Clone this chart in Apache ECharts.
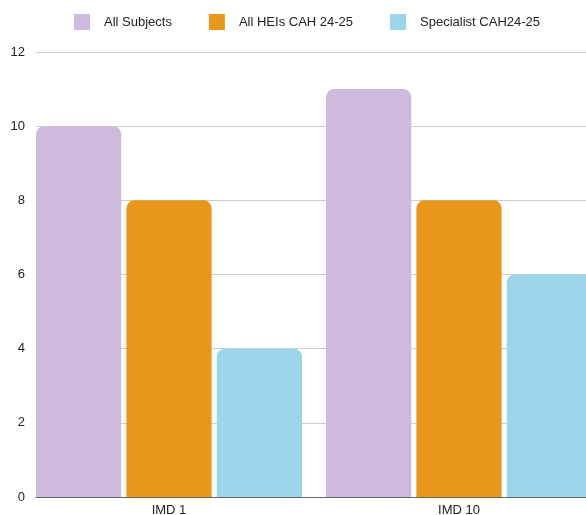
<!DOCTYPE html>
<html><head><meta charset="utf-8">
<script src="https://cdn.jsdelivr.net/npm/echarts@6/dist/echarts.min.js"></script>
<style>html,body{margin:0;padding:0;background:#fff}#c{width:586px;height:515px}</style>
</head><body><div id="c"></div>
<script>
const categories = ['IMD 1', 'IMD 10'];
const seriesNames = ['All Subjects', 'All HEIs CAH 24-25', 'Specialist CAH24-25'];
const allSubjects = [10, 11];
const allHEIs = [8, 8];
const specialist = [4, 6];
const colors = ['#CEBADD', '#E8971C', '#9AD5EA'];
const yTicks = {min: 0, max: 12, interval: 2};

const font = 'Liberation Sans, Arial, sans-serif';
const chart = echarts.init(document.getElementById('c'));
const vals = [allSubjects, allHEIs, specialist];
chart.setOption({
  animation: false,
  color: colors,
  textStyle: {fontFamily: font},
  legend: {
    left: 69, top: 9, itemWidth: 16, itemHeight: 16, itemGap: 37,
    textStyle: {fontSize: 13, color: '#222', fontFamily: font, padding: [0, 0, 0, 9]},
    icon: 'rect',
    data: seriesNames
  },
  grid: [
    {left: 36, width: 568, top: 52, bottom: 18, outerBoundsMode: 'none', containLabel: false},
    {left: 24, width: 580, top: 52, bottom: 18, outerBoundsMode: 'none', containLabel: false}
  ],
  xAxis: [
    {gridIndex: 0, type: 'category', data: categories, axisLine: {lineStyle: {color: '#666', width: 1}},
     axisTick: {show: false}, axisLabel: {show: false}},
    {gridIndex: 1, type: 'category', data: categories, axisLine: {show: false},
     axisTick: {show: false}, axisLabel: {color: '#222', fontSize: 13, fontFamily: font, margin: 7}}
  ],
  yAxis: [
    {gridIndex: 0, type: 'value', min: yTicks.min, max: yTicks.max, interval: yTicks.interval,
     axisLabel: {color: '#222', fontSize: 13, fontFamily: font, margin: 11},
     splitLine: {lineStyle: {color: '#cccccc'}}, axisLine: {show: false}, axisTick: {show: false}},
    {gridIndex: 1, type: 'value', min: yTicks.min, max: yTicks.max, interval: yTicks.interval, show: false,
     splitLine: {show: false}}
  ],
  series: seriesNames.map((n, i) => ({
    name: n, type: 'bar', xAxisIndex: 1, yAxisIndex: 1, data: vals[i],
    barGap: '6%', barCategoryGap: '8.3%',
    itemStyle: {color: colors[i], borderRadius: [8, 8, 0, 0]}
  }))
});
</script></body></html>
